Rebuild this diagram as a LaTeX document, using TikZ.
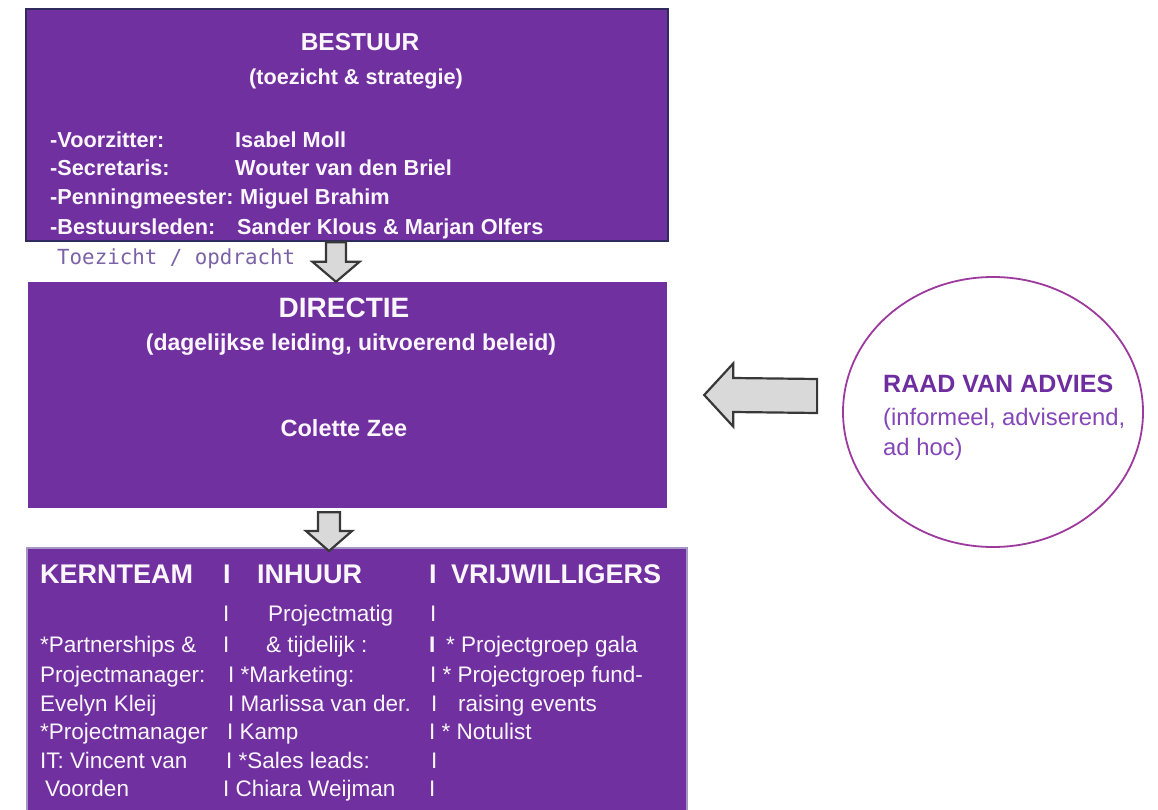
\documentclass[tikz,border=0pt]{standalone}
\usepackage{fontspec}
\setmainfont{Liberation Sans}
\newfontfamily\monofam{DejaVu Sans Mono}
\usetikzlibrary{shapes.geometric,calc}
\definecolor{boxpurple}{HTML}{7030A0}
\definecolor{navyedge}{HTML}{2F2B5C}
\definecolor{lightedge}{HTML}{A497C6}
\definecolor{arrowgray}{HTML}{D9D9D9}
\definecolor{arrowedge}{HTML}{383838}
\definecolor{raadedge}{HTML}{9C3A9E}
\definecolor{raadtitle}{HTML}{6E2EA0}
\definecolor{raadtext}{HTML}{8446B8}
\definecolor{labelpurple}{HTML}{7B62A6}
\definecolor{textwhite}{HTML}{FBF6FC}
\newcommand\fsz[1]{\fontsize{#1pt}{#1pt}\selectfont}
\newcommand\downblock[5]{\draw[blockarrow] ($(#1)+(-#3,0)$) -- ($(#2)+(-#3,-#5)$) -- ($(#2)+(-#4,-#5)$) -- (#2) -- ($(#2)+(#4,-#5)$) -- ($(#2)+(#3,-#5)$) -- ($(#1)+(#3,0)$) -- cycle;}
\newcommand\leftblock[5]{\draw[blockarrow] ($(#1)+(0,-#3)$) -- ($(#2)+(#5,-#3)$) -- ($(#2)+(#5,-#4)$) -- (#2) -- ($(#2)+(#5,#4)$) -- ($(#2)+(#5,#3)$) -- ($(#1)+(0,#3)$) -- cycle;}
\begin{document}
\begin{tikzpicture}[x=1pt,y=-1pt,
  box/.style={rectangle, fill=boxpurple, inner sep=0pt},
  wtxt/.style={text=textwhite, inner sep=0pt},
  tl/.style={wtxt, anchor=base west},
  tc/.style={wtxt, anchor=base},
  listb/.style={tl, font=\bfseries\fsz{21.7}},
  body/.style={tl, font=\fsz{22.5}},
  head/.style={tl, font=\bfseries\fsz{27}},
  blockarrow/.style={fill=arrowgray, draw=arrowedge, line width=2.2pt, line join=miter}]
\useasboundingbox (0,0) rectangle (1158,810);
\fill[white] (0,0) rectangle (1158,810);

% boxes
\node[box, draw=navyedge, line width=2.5pt, minimum width=642pt, minimum height=232pt] (bestuur) at (347,125) {};
\node[box, minimum width=639pt, minimum height=226pt] (directie) at (347.5,395) {};
\node[box, draw=lightedge, line width=2pt, minimum width=660pt, minimum height=270pt] (kern) at (357,683) {};
\node[ellipse, draw=raadedge, line width=1.8pt, minimum width=300pt, minimum height=270pt, inner sep=0pt] (raad) at (993,412) {};

% bestuur text
\node[tc, font=\bfseries\fsz{24.5}] (bt1) at (360,51) {BESTUUR};
\node[tc, font=\bfseries\fsz{21.6}] (bt2) at (356,85) {(toezicht \& strategie)};
\node[listb] (bl1) at (50,148) {-Voorzitter:};
\node[listb] (bn1) at (235,148) {Isabel Moll};
\node[listb] (bl2) at (50,176) {-Secretaris:};
\node[listb] (bn2) at (235,176) {Wouter van den Briel};
\node[listb] (bl3) at (50,205) {-Penningmeester:};
\node[listb] (bn3) at (240,205) {Miguel Brahim};
\node[listb] (bl4) at (50,235) {-Bestuursleden:};
\node[listb] (bn4) at (237,235) {Sander Klous \& Marjan Olfers};

\node[anchor=base west, inner sep=0pt, text=labelpurple, font=\monofam\fsz{20.8}] (toez) at (57,265) {Toezicht / opdracht};

% directie text
\node[tc, font=\bfseries\fsz{28}] (dt1) at (344,317) {DIRECTIE};
\node[tc, font=\bfseries\fsz{23}] (dt2) at (351,350) {(dagelijkse leiding, uitvoerend beleid)};
\node[tc, font=\bfseries\fsz{23.5}] (dt3) at (344,436) {Colette Zee};

% raad van advies
\node[anchor=base west, inner sep=0pt, text=raadtitle, font=\bfseries\fsz{25}] (rt1) at (883,392) {RAAD VAN ADVIES};
\node[anchor=base west, inner sep=0pt, text=raadtext, font=\fsz{23.8}] (rt2) at (883,425.5) {(informeel, adviserend,};
\node[anchor=base west, inner sep=0pt, text=raadtext, font=\fsz{23.8}] (rt3) at (883,455.5) {ad hoc)};

% kern / inhuur / vrijwilligers
\node[head] (h1) at (40,583) {KERNTEAM};
\node[head] (h2) at (223,583) {I};
\node[head] (h3) at (257,583) {INHUUR};
\node[head] (h4) at (429,583) {I};
\node[head] (h5) at (451,583) {VRIJWILLIGERS};

\node[body] (r1a) at (223,621) {I};
\node[body] (r1b) at (268,621) {Projectmatig};
\node[body] (r1c) at (430,621) {I};

\node[body] (r2a) at (40,652) {*Partnerships \&};
\node[body] (r2b) at (223,652) {I};
\node[body] (r2c) at (266,652) {\& tijdelijk :};
\node[body, font=\bfseries\fsz{22.5}] (r2d) at (429,652) {I};
\node[body] (r2e) at (446,652) {* Projectgroep gala};

\node[body] (r3a) at (40,682) {Projectmanager:};
\node[body] (r3b) at (228,682) {I *Marketing:};
\node[body] (r3c) at (430,682) {I * Projectgroep fund-};

\node[body] (r4a) at (40,711) {Evelyn Kleij};
\node[body] (r4b) at (228,711) {I Marlissa van der.};
\node[body] (r4c) at (431,711) {I};
\node[body] (r4d) at (458,711) {raising events};

\node[body] (r5a) at (40,739) {*Projectmanager};
\node[body] (r5b) at (227,739) {I Kamp};
\node[body] (r5c) at (429,739) {I * Notulist};

\node[body] (r6a) at (40,768) {IT: Vincent van};
\node[body] (r6b) at (226,768) {I *Sales leads:};
\node[body] (r6c) at (431,768) {I};

\node[body] (r7a) at (45,796) {Voorden};
\node[body] (r7b) at (223,796) {I Chiara Weijman};
\node[body] (r7c) at (429,796) {I};

% block arrows
\coordinate (a1s) at ([xshift=-11pt]bestuur.south);
\coordinate (a1e) at ([xshift=-11.5pt]directie.north);
\downblock{a1s}{a1e}{10}{23.5}{20}
\coordinate (a2s) at ([xshift=-18.5pt,yshift=-4pt]directie.south);
\coordinate (a2e) at ([xshift=-28pt,yshift=-4pt]kern.north);
\downblock{a2s}{a2e}{11}{23}{20}
\coordinate (a3s) at ([xshift=-25pt,yshift=16pt]raad.west);
\coordinate (a3e) at ([xshift=37pt]directie.east);
\leftblock{a3s}{a3e}{17}{31.5}{29}
\end{tikzpicture}
\end{document}
